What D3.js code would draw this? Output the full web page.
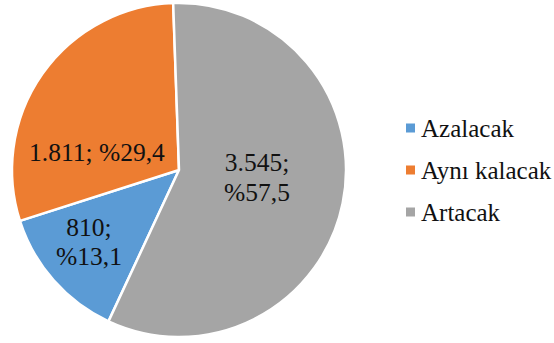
<!DOCTYPE html>
<html><head><meta charset="utf-8">
<script src="https://cdn.jsdelivr.net/npm/d3@7"></script>
<style>html,body{margin:0;padding:0;background:#fff;}svg{display:block;}
text{font-family:"Liberation Serif","Times New Roman",Times,"DejaVu Serif",serif;}</style>
</head><body>
<script>
const categories = ["Azalacak", "Aynı kalacak", "Artacak"];
const values = [810, 1811, 3545];
const percentLabels = ["%13,1", "%29,4", "%57,5"];
const countLabels = ["810;", "1.811;", "3.545;"];
const colors = ["#5B9BD5", "#ED7D31", "#A5A5A5"];

const W = 554, H = 343;
const cx = 179, cy = 170, r = 167;
const svg = d3.select("body").append("svg").attr("width", W).attr("height", H);
const total = d3.sum(values);
const start = -2 * Math.PI / 180 + 2 * Math.PI * values[2] / total;
const pie = d3.pie().sort(null).value(d => d).startAngle(start).endAngle(start + 2 * Math.PI);
const arcs = pie(values);
const arc = d3.arc().innerRadius(0).outerRadius(r);
const g = svg.append("g").attr("transform", `translate(${cx},${cy})`);
g.selectAll("path").data(arcs).join("path")
  .attr("d", arc).attr("fill", (d, i) => colors[i])
  .attr("stroke", "#fff").attr("stroke-width", 2.5).attr("stroke-linejoin", "round");

const labelPos = [[89, 227, 256], [97, 152, null], [257, 162, 192]];
arcs.forEach((d, i) => {
  const [x, y1, y2] = labelPos[i];
  const t = svg.append("text").attr("font-size", 25.5)
    .attr("fill", "#111").attr("text-anchor", "middle");
  if (y2 === null) {
    t.append("tspan").attr("x", x).attr("y", y1).attr("dy", "0.35em").text(countLabels[i] + " " + percentLabels[i]);
  } else {
    t.append("tspan").attr("x", x).attr("y", y1).attr("dy", "0.35em").text(countLabels[i]);
    t.append("tspan").attr("x", x).attr("y", y2).attr("dy", "0.35em").text(percentLabels[i]);
  }
});

const leg = svg.append("g");
categories.forEach((c, i) => {
  const y = 128 + i * 42;
  leg.append("rect").attr("x", 406).attr("y", y - 4.5).attr("width", 9).attr("height", 9).attr("fill", colors[i]);
  leg.append("text").attr("x", 421).attr("y", y).attr("dy", "0.35em")
    .attr("font-size", 25).attr("fill", "#111").text(c);
});
</script>
</body></html>
